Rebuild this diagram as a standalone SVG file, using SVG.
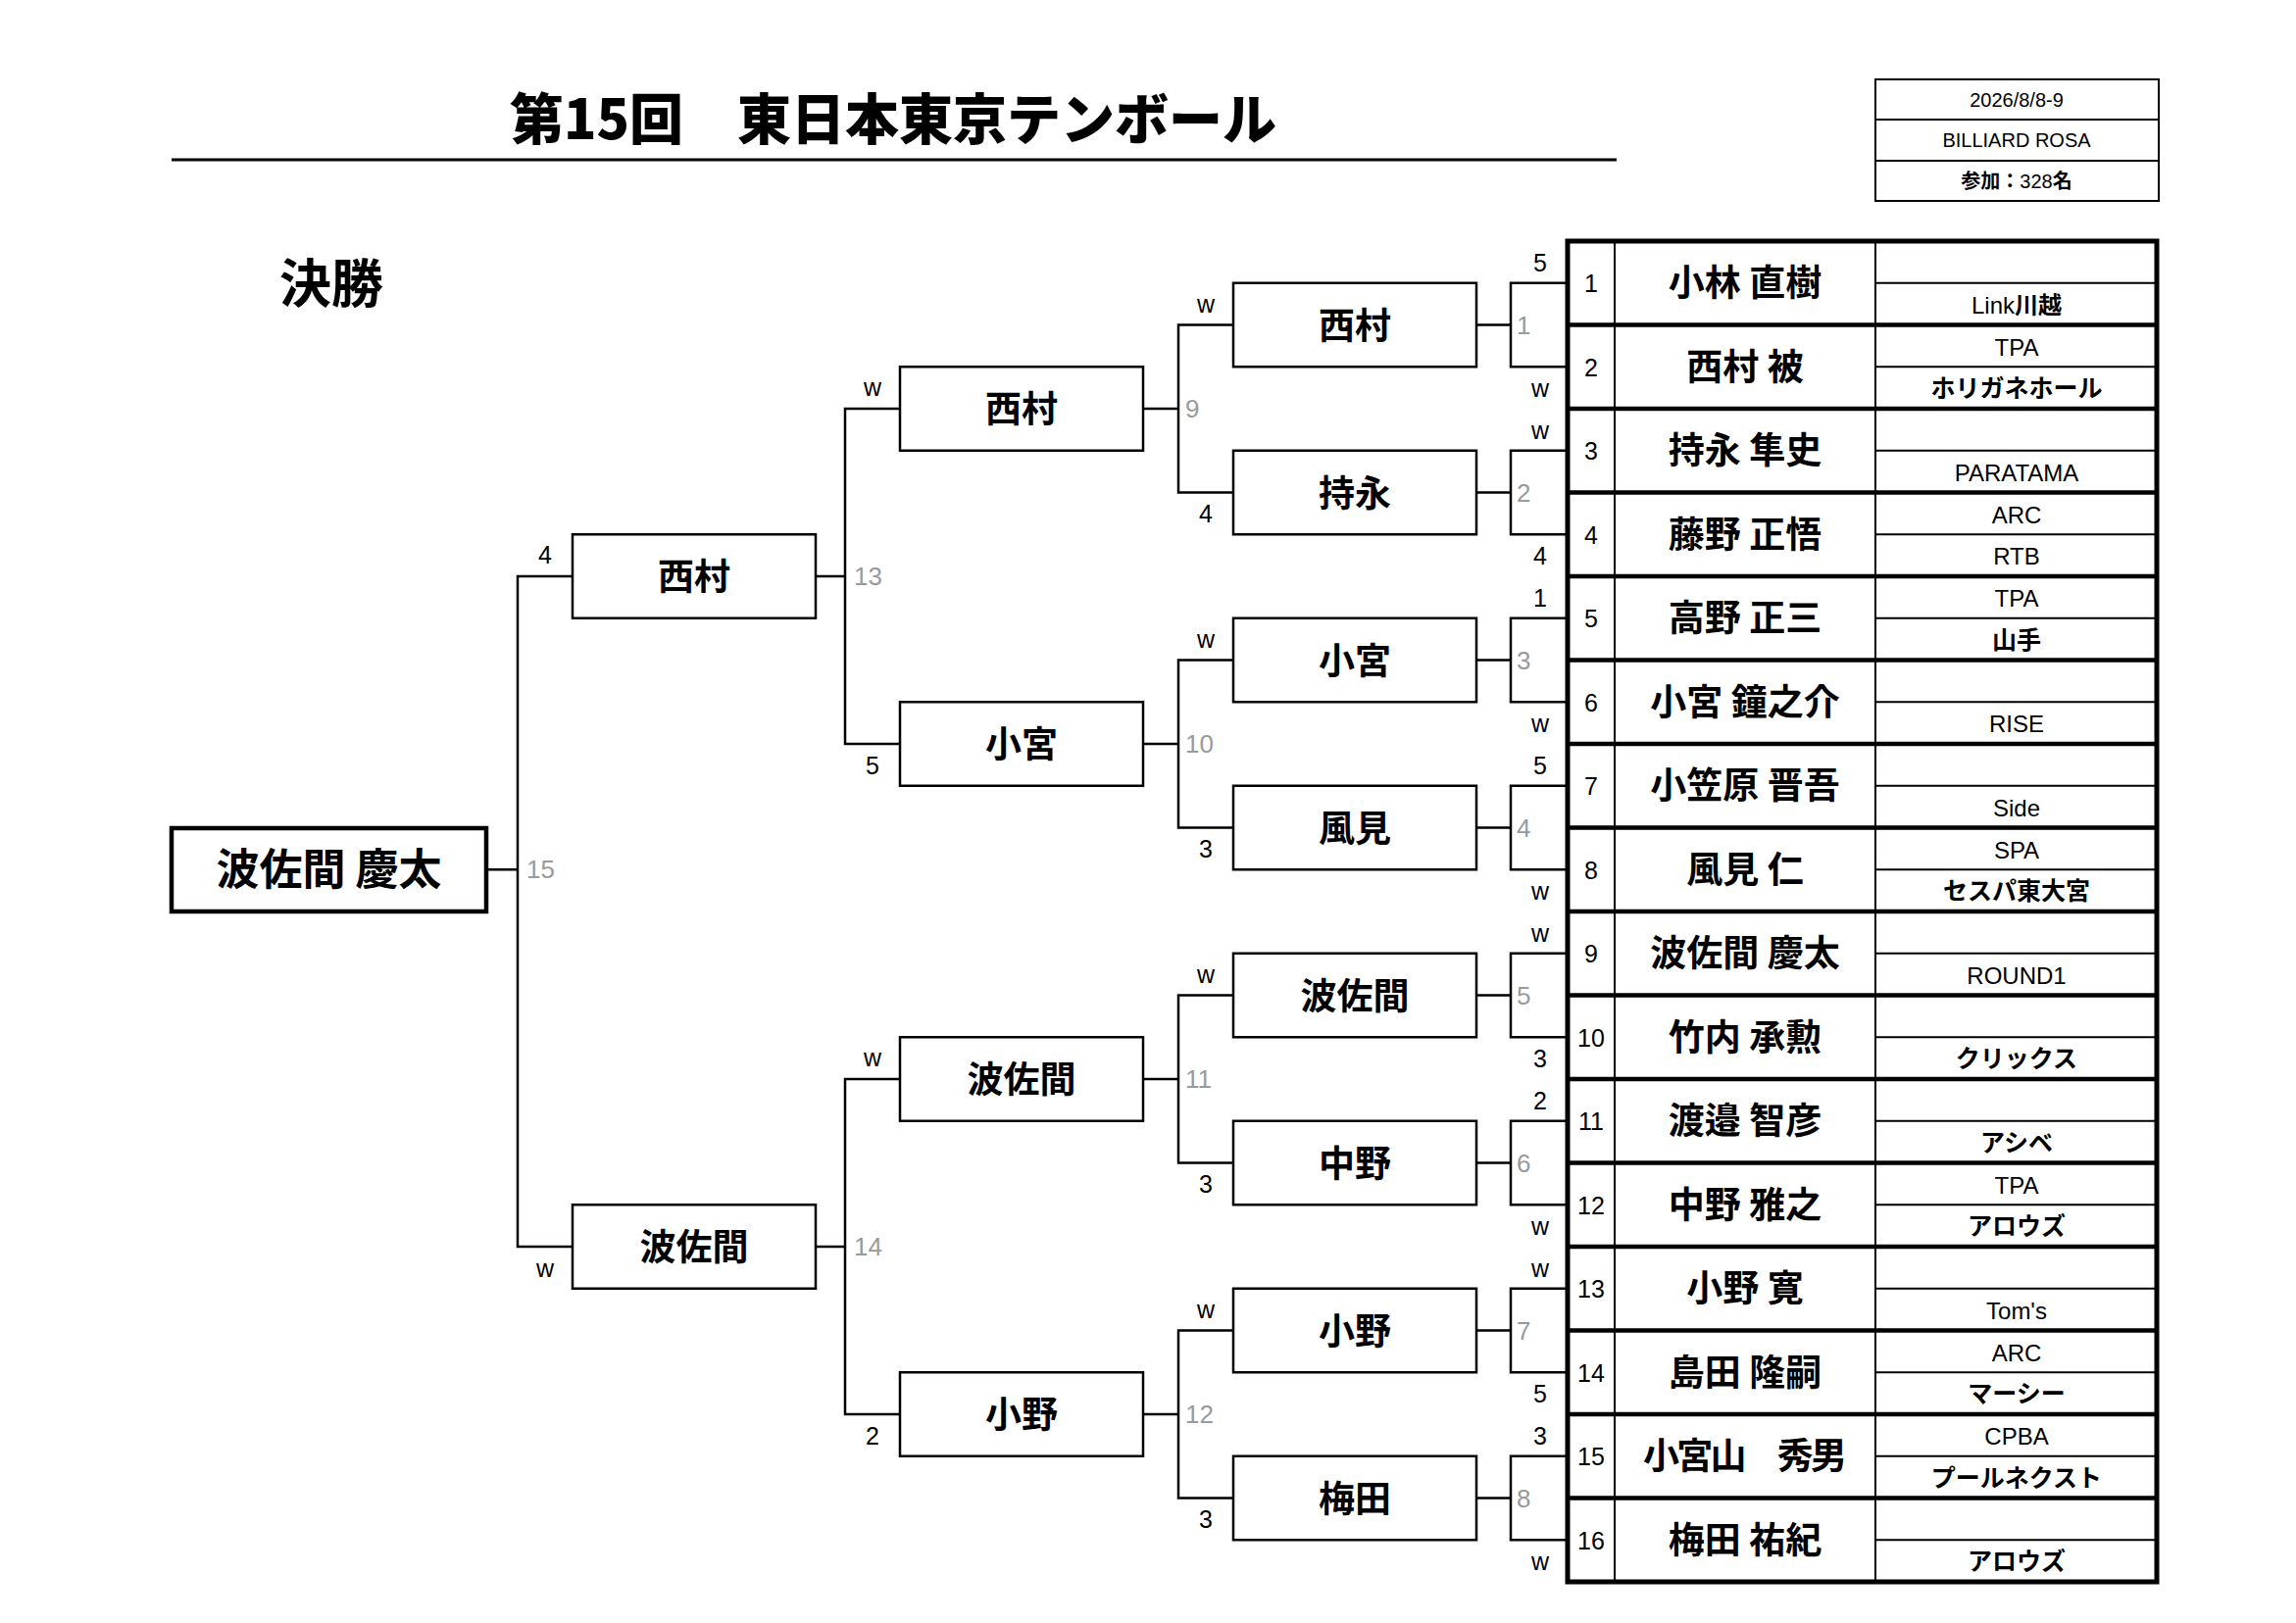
<svg xmlns="http://www.w3.org/2000/svg" width="2342" height="1656" viewBox="0 0 2342 1656">
<style>
text{font-family:"Liberation Sans","Noto Sans CJK JP",sans-serif;fill:#000}
.j{font-family:"Noto Sans CJK JP",sans-serif;font-weight:bold}
.title{font-family:"Noto Sans CJK JP",sans-serif;font-weight:900;font-size:56px}
.nm{font-family:"Noto Sans CJK JP",sans-serif;font-weight:bold;font-size:37px;text-anchor:middle}
.win{font-family:"Noto Sans CJK JP",sans-serif;font-weight:bold;font-size:44px;text-anchor:middle}
.sc{font-size:25px;text-anchor:middle}
.gr{font-size:26px}
.gr text{fill:#9a9a9a}
.no{font-size:25px;text-anchor:middle}
.af{font-size:24px;text-anchor:middle}
.afj{font-family:"Noto Sans CJK JP",sans-serif;font-weight:bold;font-size:25px;text-anchor:middle}
.info{font-size:20px;text-anchor:middle}
.box{fill:#fff;stroke:#000;stroke-width:2.5}
.ln{fill:none;stroke:#000;stroke-width:2.5}
.thin{stroke:#000;stroke-width:2}
.thick{stroke:#000;stroke-width:4.5}
</style>

<g id="header">
<text class="title" x="911" y="142" text-anchor="middle" textLength="782" lengthAdjust="spacingAndGlyphs">第15回　東日本東京テンボール</text>
<line x1="175" y1="163" x2="1649" y2="163" stroke="#000" stroke-width="3"/>
<text class="j" x="285" y="309" font-size="53">決勝</text>
</g>

<g id="info">
<rect x="1913" y="81" width="289" height="124" fill="#fff" stroke="#000" stroke-width="2"/>
<line x1="1913" y1="122" x2="2202" y2="122" class="thin"/>
<line x1="1913" y1="164" x2="2202" y2="164" class="thin"/>
<text class="info" x="2057" y="109">2026/8/8-9</text>
<text class="info" x="2057" y="150">BILLIARD ROSA</text>
<text class="info" x="2057" y="192"><tspan class="j">参加：</tspan>328<tspan class="j">名</tspan></text>
</g>

<g id="connectors">
<!-- R1 brackets -->
<path class="ln" d="M1506,331.5H1541M1599,288.75H1541V374.25H1599"/>
<path class="ln" d="M1506,502.5H1541M1599,459.75H1541V545.25H1599"/>
<path class="ln" d="M1506,673.5H1541M1599,630.75H1541V716.25H1599"/>
<path class="ln" d="M1506,844.5H1541M1599,801.75H1541V887.25H1599"/>
<path class="ln" d="M1506,1015.5H1541M1599,972.75H1541V1058.25H1599"/>
<path class="ln" d="M1506,1186.5H1541M1599,1143.75H1541V1229.25H1599"/>
<path class="ln" d="M1506,1357.5H1541M1599,1314.75H1541V1400.25H1599"/>
<path class="ln" d="M1506,1528.5H1541M1599,1485.75H1541V1571.25H1599"/>
<!-- R2 brackets -->
<path class="ln" d="M1166,417H1202M1258,331.5H1202V502.5H1258"/>
<path class="ln" d="M1166,759H1202M1258,673.5H1202V844.5H1258"/>
<path class="ln" d="M1166,1101H1202M1258,1015.5H1202V1186.5H1258"/>
<path class="ln" d="M1166,1443H1202M1258,1357.5H1202V1528.5H1258"/>
<!-- R3 brackets -->
<path class="ln" d="M832,588H862M918,417H862V759H918"/>
<path class="ln" d="M832,1272H862M918,1101H862V1443H918"/>
<!-- Final bracket -->
<path class="ln" d="M496,887.25H528M584,588H528V1272H584"/>

<!-- score labels -->
<g class="sc">
<text x="1571" y="277">5</text><text x="1571" y="405">w</text>
<text x="1571" y="448">w</text><text x="1571" y="576">4</text>
<text x="1571" y="619">1</text><text x="1571" y="747">w</text>
<text x="1571" y="790">5</text><text x="1571" y="918">w</text>
<text x="1571" y="961">w</text><text x="1571" y="1089">3</text>
<text x="1571" y="1132">2</text><text x="1571" y="1260">w</text>
<text x="1571" y="1303">w</text><text x="1571" y="1431">5</text>
<text x="1571" y="1474">3</text><text x="1571" y="1602">w</text>
<text x="1230" y="319">w</text><text x="1230" y="533">4</text>
<text x="1230" y="661">w</text><text x="1230" y="875">3</text>
<text x="1230" y="1003">w</text><text x="1230" y="1217">3</text>
<text x="1230" y="1345">w</text><text x="1230" y="1559">3</text>
<text x="890" y="404">w</text><text x="890" y="790">5</text>
<text x="890" y="1088">w</text><text x="890" y="1474">2</text>
<text x="556" y="575">4</text><text x="556" y="1303">w</text>
</g>
<!-- grey match numbers -->
<g class="gr">
<text x="1547" y="341">1</text>
<text x="1547" y="512">2</text>
<text x="1547" y="683">3</text>
<text x="1547" y="854">4</text>
<text x="1547" y="1025">5</text>
<text x="1547" y="1196">6</text>
<text x="1547" y="1367">7</text>
<text x="1547" y="1538">8</text>
<text x="1209" y="426">9</text>
<text x="1209" y="768">10</text>
<text x="1209" y="1110">11</text>
<text x="1209" y="1452">12</text>
<text x="871" y="597">13</text>
<text x="871" y="1281">14</text>
<text x="537" y="896">15</text>
</g>
</g>

<g id="winner">
<rect x="175" y="845" width="321" height="85" fill="#fff" stroke="#000" stroke-width="4.5"/>
<text class="win" x="335.5" y="903">波佐間 慶太</text>
</g>

<g id="r3-1"><rect class="box" x="584" y="545.25" width="248" height="85.5"/><text class="nm" x="708" y="602">西村</text></g>
<g id="r3-2"><rect class="box" x="584" y="1229.25" width="248" height="85.5"/><text class="nm" x="708" y="1286">波佐間</text></g>

<g id="r2-1"><rect class="box" x="918" y="374.25" width="248" height="85.5"/><text class="nm" x="1042" y="431">西村</text></g>
<g id="r2-2"><rect class="box" x="918" y="716.25" width="248" height="85.5"/><text class="nm" x="1042" y="773">小宮</text></g>
<g id="r2-3"><rect class="box" x="918" y="1058.25" width="248" height="85.5"/><text class="nm" x="1042" y="1115">波佐間</text></g>
<g id="r2-4"><rect class="box" x="918" y="1400.25" width="248" height="85.5"/><text class="nm" x="1042" y="1457">小野</text></g>

<g id="r1-1"><rect class="box" x="1258" y="288.75" width="248" height="85.5"/><text class="nm" x="1382" y="345.5">西村</text></g>
<g id="r1-2"><rect class="box" x="1258" y="459.75" width="248" height="85.5"/><text class="nm" x="1382" y="516.5">持永</text></g>
<g id="r1-3"><rect class="box" x="1258" y="630.75" width="248" height="85.5"/><text class="nm" x="1382" y="687.5">小宮</text></g>
<g id="r1-4"><rect class="box" x="1258" y="801.75" width="248" height="85.5"/><text class="nm" x="1382" y="858.5">風見</text></g>
<g id="r1-5"><rect class="box" x="1258" y="972.75" width="248" height="85.5"/><text class="nm" x="1382" y="1029.5">波佐間</text></g>
<g id="r1-6"><rect class="box" x="1258" y="1143.75" width="248" height="85.5"/><text class="nm" x="1382" y="1200.5">中野</text></g>
<g id="r1-7"><rect class="box" x="1258" y="1314.75" width="248" height="85.5"/><text class="nm" x="1382" y="1371.5">小野</text></g>
<g id="r1-8"><rect class="box" x="1258" y="1485.75" width="248" height="85.5"/><text class="nm" x="1382" y="1542.5">梅田</text></g>

<g id="table">
<rect x="1599" y="246" width="601" height="1368" fill="#fff" stroke="#000" stroke-width="5"/>
<path class="thin" fill="none" d="M1913,288.75H2200M1913,374.25H2200M1913,459.75H2200M1913,545.25H2200M1913,630.75H2200M1913,716.25H2200M1913,801.75H2200M1913,887.25H2200M1913,972.75H2200M1913,1058.25H2200M1913,1143.75H2200M1913,1229.25H2200M1913,1314.75H2200M1913,1400.25H2200M1913,1485.75H2200M1913,1571.25H2200"/>
<path class="thin" fill="none" d="M1647,246V1614M1913,246V1614"/>
<path class="thick" fill="none" d="M1599,331.5H2200M1599,417H2200M1599,502.5H2200M1599,588H2200M1599,673.5H2200M1599,759H2200M1599,844.5H2200M1599,930H2200M1599,1015.5H2200M1599,1101H2200M1599,1186.5H2200M1599,1272H2200M1599,1357.5H2200M1599,1443H2200M1599,1528.5H2200"/>

<g id="p1"><text class="no" x="1623" y="298">1</text><text class="nm" x="1780" y="302">小林 直樹</text><text class="af" x="2057" y="319.5">Link<tspan class="j">川越</tspan></text></g>
<g id="p2"><text class="no" x="1623" y="383.5">2</text><text class="nm" x="1780" y="387.5">西村 被</text><text class="af" x="2057" y="362.5">TPA</text><text class="afj" x="2057" y="405">ホリガネホール</text></g>
<g id="p3"><text class="no" x="1623" y="469">3</text><text class="nm" x="1780" y="473">持永 隼史</text><text class="af" x="2057" y="490.5">PARATAMA</text></g>
<g id="p4"><text class="no" x="1623" y="554.5">4</text><text class="nm" x="1780" y="558.5">藤野 正悟</text><text class="af" x="2057" y="533.5">ARC</text><text class="af" x="2057" y="576">RTB</text></g>
<g id="p5"><text class="no" x="1623" y="640">5</text><text class="nm" x="1780" y="644">高野 正三</text><text class="af" x="2057" y="619">TPA</text><text class="afj" x="2057" y="661.5">山手</text></g>
<g id="p6"><text class="no" x="1623" y="725.5">6</text><text class="nm" x="1780" y="729.5">小宮 鐘之介</text><text class="af" x="2057" y="747">RISE</text></g>
<g id="p7"><text class="no" x="1623" y="811">7</text><text class="nm" x="1780" y="815">小笠原 晋吾</text><text class="af" x="2057" y="832.5">Side</text></g>
<g id="p8"><text class="no" x="1623" y="896.5">8</text><text class="nm" x="1780" y="900.5">風見 仁</text><text class="af" x="2057" y="875.5">SPA</text><text class="afj" x="2057" y="918">セスパ東大宮</text></g>
<g id="p9"><text class="no" x="1623" y="982">9</text><text class="nm" x="1780" y="986">波佐間 慶太</text><text class="af" x="2057" y="1003.5">ROUND1</text></g>
<g id="p10"><text class="no" x="1623" y="1067.5">10</text><text class="nm" x="1780" y="1071.5">竹内 承勲</text><text class="afj" x="2057" y="1089">クリックス</text></g>
<g id="p11"><text class="no" x="1623" y="1153">11</text><text class="nm" x="1780" y="1157">渡邉 智彦</text><text class="afj" x="2057" y="1174.5">アシベ</text></g>
<g id="p12"><text class="no" x="1623" y="1238.5">12</text><text class="nm" x="1780" y="1242.5">中野 雅之</text><text class="af" x="2057" y="1217.5">TPA</text><text class="afj" x="2057" y="1260">アロウズ</text></g>
<g id="p13"><text class="no" x="1623" y="1324">13</text><text class="nm" x="1780" y="1328">小野 寛</text><text class="af" x="2057" y="1345.5">Tom's</text></g>
<g id="p14"><text class="no" x="1623" y="1409.5">14</text><text class="nm" x="1780" y="1413.5">島田 隆嗣</text><text class="af" x="2057" y="1388.5">ARC</text><text class="afj" x="2057" y="1431">マーシー</text></g>
<g id="p15"><text class="no" x="1623" y="1495">15</text><text class="nm" x="1780" y="1499" textLength="208" lengthAdjust="spacing">小宮山　秀男</text><text class="af" x="2057" y="1474">CPBA</text><text class="afj" x="2057" y="1516.5">プールネクスト</text></g>
<g id="p16"><text class="no" x="1623" y="1580.5">16</text><text class="nm" x="1780" y="1584.5">梅田 祐紀</text><text class="afj" x="2057" y="1602">アロウズ</text></g>
</g>
</svg>
